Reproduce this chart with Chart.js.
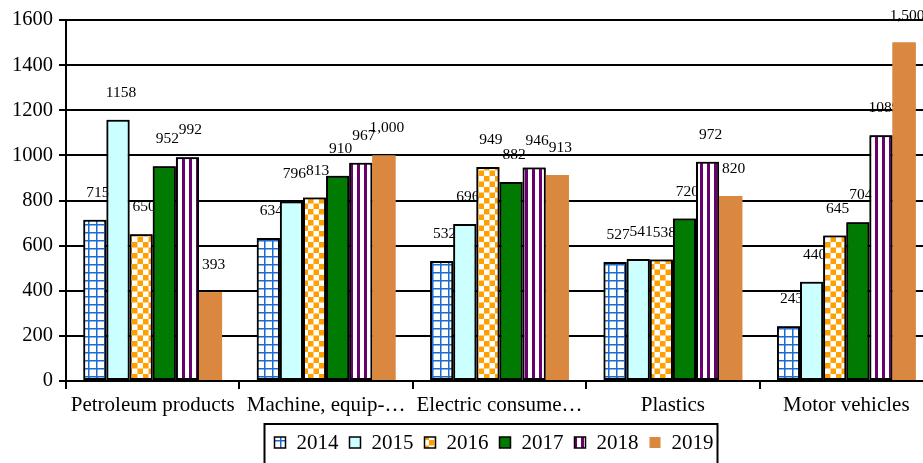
<!DOCTYPE html>
<html><head><meta charset="utf-8">
<script src="https://cdn.jsdelivr.net/npm/chart.js@4/dist/chart.umd.min.js"></script>
<style>
html,body{margin:0;padding:0;background:#fff;overflow:hidden;width:923px;height:463px}
#wrap{position:absolute;left:0;top:0;width:940px;height:463px}
</style>
</head><body><div id="wrap"><canvas id="c" width="940" height="463"></canvas></div>
<script>
// ---- data ----
const categories = ['Petroleum products', 'Machine, equip-\u2026', 'Electric consume\u2026', 'Plastics', 'Motor vehicles'];
const years = ['2014', '2015', '2016', '2017', '2018', '2019'];
const v2014 = [715, 634, 532, 527, 243];
const v2015 = [1158, 796, 696, 541, 440];
const v2016 = [650, 813, 949, 538, 645];
const v2017 = [952, 910, 882, 720, 704];
const v2018 = [992, 967, 946, 972, 1089];
const v2019 = [393, 1000, 913, 820, 1500];
const yMin = 0, yMax = 1600, yStep = 200;

const series = [v2014, v2015, v2016, v2017, v2018, v2019];
const FONT = '"Liberation Serif", "Times New Roman", serif';

// ---- fills ----
function tile(w, h, draw) {
  const c = document.createElement('canvas'); c.width = w; c.height = h;
  const g = c.getContext('2d'); draw(g, w, h);
  return document.getElementById('c').getContext('2d').createPattern(c, 'repeat');
}
const p2014 = tile(8, 8, (g, w, h) => {
  g.fillStyle = '#fff'; g.fillRect(0, 0, w, h);
  g.fillStyle = '#1a6bd0'; g.fillRect(0, 0, w, 1.5); g.fillRect(0, 0, 1.5, h);
});
const p2016 = tile(11, 11, (g, w, h) => {
  g.fillStyle = '#fff'; g.fillRect(0, 0, w, h);
  g.fillStyle = '#ffa000'; g.fillRect(0, 0, 5.5, 5.5); g.fillRect(5.5, 5.5, 5.5, 5.5);
});
const p2018 = tile(7, 4, (g, w, h) => {
  g.fillStyle = '#fff'; g.fillRect(0, 0, w, h);
  g.fillStyle = '#6a006e'; g.fillRect(0, 0, 3, h);
});
const fills = [p2014, '#ccffff', p2016, '#007a00', p2018, '#da8740'];
const borders = [2, 2, 2, 2, 2, 0];

// ---- plugins ----
const valueLabels = {
  id: 'valueLabels',
  afterDatasetsDraw(chart) {
    const ctx = chart.ctx;
    chart.data.datasets.forEach((ds, i) => {
      const meta = chart.getDatasetMeta(i);
      meta.controller.draw();
      ctx.save();
      ctx.font = '15.5px ' + FONT;
      ctx.fillStyle = '#000'; ctx.textAlign = 'center'; ctx.textBaseline = 'middle';
      meta.data.forEach((bar, j) => {
        const v = ds.data[j];
        const txt = i === 5 ? v.toLocaleString('en-US') : String(v);
        ctx.fillText(txt, bar.x + 3, bar.y - 27);
      });
      ctx.restore();
    });
  }
};

const boxLegend = {
  id: 'boxLegend',
  afterDraw(chart) {
    const ctx = chart.ctx, a = chart.chartArea;
    ctx.save();
    ctx.font = '21px ' + FONT;
    const sw = 11, gap = 11, spacing = 11;
    const widths = years.map(y => sw + gap + ctx.measureText(y).width);
    const total = widths.reduce((s, w) => s + w, 0) + spacing * (years.length - 1);
    const cx = 494;
    const top = a.bottom + 43;
    const boxL = cx - total / 2 - 10, boxR = cx + total / 2 + 4;
    ctx.lineWidth = 2; ctx.strokeStyle = '#000';
    ctx.strokeRect(boxL, top, boxR - boxL, chart.height - top + 4);
    let x = cx - total / 2;
    years.forEach((y, i) => {
      const sy = top + 13;
      ctx.fillStyle = fills[i];
      ctx.fillRect(x, sy, sw, sw);
      if (borders[i]) { ctx.lineWidth = 1.5; ctx.strokeRect(x, sy, sw, sw); }
      ctx.fillStyle = '#000'; ctx.textAlign = 'left'; ctx.textBaseline = 'alphabetic';
      ctx.fillText(y, x + sw + gap, top + 25);
      x += widths[i] + spacing;
    });
    ctx.restore();
  }
};

new Chart(document.getElementById('c'), {
  type: 'bar',
  data: {
    labels: categories,
    datasets: series.map((d, i) => ({
      label: years[i], data: d,
      backgroundColor: fills[i], borderColor: '#000', borderWidth: borders[i],
      borderSkipped: false,
      categoryPercentage: 0.8, barPercentage: 1.0
    }))
  },
  options: {
    responsive: false, animation: false, devicePixelRatio: 1,
    layout: { padding: { left: 0, right: 7, top: 20, bottom: 45 } },
    plugins: { legend: { display: false }, tooltip: { enabled: false } },
    scales: {
      x: {
        grid: { display: true, drawOnChartArea: false, drawTicks: true, tickLength: 8, color: '#000', lineWidth: 2, offset: true },
        border: { display: true, color: '#000', width: 2 },
        ticks: { font: { family: FONT, size: 21 }, color: '#000', padding: 4, maxRotation: 0, minRotation: 0, autoSkip: false },
        afterFit(s) { s.height = 37; }
      },
      y: {
        min: yMin, max: yMax,
        ticks: { stepSize: yStep, font: { family: FONT, size: 20.5 }, color: '#000', padding: 6, callback: v => String(v) },
        grid: { color: '#000', lineWidth: 2, tickLength: 7, drawTicks: true },
        border: { display: true, color: '#000', width: 2 },
        afterFit(s) { s.width = 66; }
      }
    }
  },
  plugins: [valueLabels, boxLegend]
});
</script>
</body></html>
